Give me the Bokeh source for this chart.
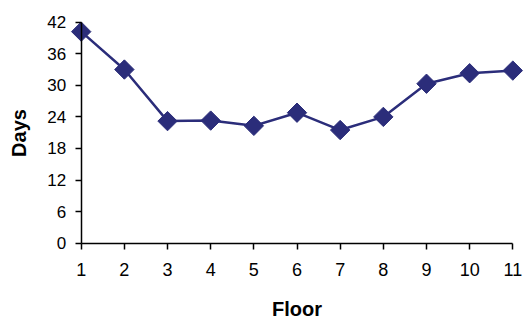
import numpy as np
from bokeh.plotting import figure
from bokeh.models import FixedTicker
from bokeh.embed import file_html
from bokeh.resources import INLINE

# Data
floors = [1, 2, 3, 4, 5, 6, 7, 8, 9, 10, 11]
days = [40.2, 33.0, 23.2, 23.3, 22.3, 24.8, 21.5, 24.0, 30.3, 32.3, 32.8]
x_ticks = [1, 2, 3, 4, 5, 6, 7, 8, 9, 10, 11]
y_ticks = [0, 6, 12, 18, 24, 30, 36, 42]
x_label = "Floor"
y_label = "Days"

COLOR = "#2B2D7A"
FONT = "Liberation Sans"

p = figure(width=525, height=320, output_backend="svg", toolbar_location=None,
           x_range=(-0.870, 11.294), y_range=(-14.69, 46.12), min_border=0)
p.outline_line_color = None
p.grid.visible = False

p.line(floors, days, line_color=COLOR, line_width=2.5)
p.scatter(floors, days, marker="square", size=13.7, angle=np.pi / 4,
          fill_color=COLOR, line_color=COLOR)

xa = p.xaxis[0]
xa.fixed_location = 0
xa.bounds = (1, 11)
xa.ticker = FixedTicker(ticks=x_ticks)
xa.axis_label = x_label

ya = p.yaxis[0]
ya.fixed_location = 1
ya.bounds = (0, 42)
ya.ticker = FixedTicker(ticks=y_ticks)
ya.axis_label = y_label

for ax in (xa, ya):
    ax.axis_line_color = "black"
    ax.axis_line_width = 1.5
    ax.major_tick_line_color = "black"
    ax.major_tick_line_width = 1.5
    ax.major_tick_out = 6
    ax.major_tick_in = 0
    ax.minor_tick_out = 0
    ax.minor_tick_in = 0
    ax.major_label_text_font = FONT
    ax.major_label_text_color = "black"
    ax.axis_label_text_font = FONT
    ax.axis_label_text_font_style = "bold"
    ax.axis_label_text_font_size = "20px"
    ax.axis_label_text_color = "black"

xa.major_label_text_font_size = "18px"
xa.major_label_standoff = 14
xa.axis_label_standoff = 18
ya.major_label_text_font_size = "17px"
ya.major_label_standoff = 9
ya.axis_label_standoff = 15

open("out.html", "w").write(file_html(p, INLINE))
